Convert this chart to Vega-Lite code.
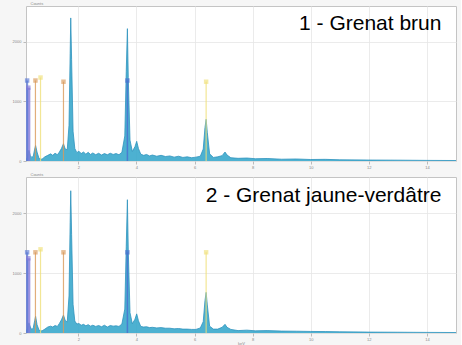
{
  "$schema": "https://vega.github.io/schema/vega-lite/v6.json",
  "padding": {"left": 11, "top": 0, "right": 4, "bottom": 0},
  "background": "#f6f6f6",
  "spacing": 1,
  "config": {
    "font": "Liberation Sans",
    "view": {"fill": "white", "stroke": "#c4c4c4", "strokeWidth": 1},
    "axis": {"gridColor": "#e6e6e6", "gridWidth": 0.8, "domain": false, "tickColor": "#bbb", "tickSize": 3, "labelFontSize": 4, "labelColor": "#888", "labelOverlap": false, "titleFontSize": 4, "titleColor": "#888", "titleFontWeight": "normal"}
  },
  "datasets": {
    "spec": [
      {"p":1,"e":0.2,"c":20},{"p":1,"e":0.25,"c":60},{"p":1,"e":0.3,"c":180},{"p":1,"e":0.35,"c":90},{"p":1,"e":0.4,"c":60},{"p":1,"e":0.45,"c":80},{"p":1,"e":0.5,"c":200},{"p":1,"e":0.53,"c":260},{"p":1,"e":0.58,"c":150},{"p":1,"e":0.65,"c":40},{"p":1,"e":0.75,"c":30},{"p":1,"e":0.85,"c":70},{"p":1,"e":0.95,"c":95},{"p":1,"e":1.05,"c":120},{"p":1,"e":1.12,"c":95},{"p":1,"e":1.2,"c":130},{"p":1,"e":1.28,"c":105},{"p":1,"e":1.35,"c":150},{"p":1,"e":1.42,"c":210},{"p":1,"e":1.49,"c":290},{"p":1,"e":1.55,"c":200},{"p":1,"e":1.62,"c":190},{"p":1,"e":1.68,"c":600},{"p":1,"e":1.72,"c":1800},{"p":1,"e":1.74,"c":2400},{"p":1,"e":1.77,"c":1700},{"p":1,"e":1.82,"c":500},{"p":1,"e":1.88,"c":210},{"p":1,"e":1.95,"c":140},{"p":1,"e":2.02,"c":165},{"p":1,"e":2.1,"c":125},{"p":1,"e":2.18,"c":150},{"p":1,"e":2.26,"c":115},{"p":1,"e":2.34,"c":145},{"p":1,"e":2.42,"c":110},{"p":1,"e":2.5,"c":135},{"p":1,"e":2.6,"c":105},{"p":1,"e":2.7,"c":130},{"p":1,"e":2.8,"c":100},{"p":1,"e":2.9,"c":125},{"p":1,"e":3.0,"c":105},{"p":1,"e":3.1,"c":130},{"p":1,"e":3.2,"c":110},{"p":1,"e":3.3,"c":125},{"p":1,"e":3.4,"c":105},{"p":1,"e":3.5,"c":145},{"p":1,"e":3.6,"c":420},{"p":1,"e":3.65,"c":1500},{"p":1,"e":3.69,"c":2220},{"p":1,"e":3.72,"c":1400},{"p":1,"e":3.78,"c":350},{"p":1,"e":3.86,"c":160},{"p":1,"e":3.95,"c":240},{"p":1,"e":4.01,"c":330},{"p":1,"e":4.07,"c":210},{"p":1,"e":4.15,"c":115},{"p":1,"e":4.25,"c":95},{"p":1,"e":4.35,"c":110},{"p":1,"e":4.45,"c":85},{"p":1,"e":4.55,"c":100},{"p":1,"e":4.7,"c":80},{"p":1,"e":4.85,"c":95},{"p":1,"e":5.0,"c":75},{"p":1,"e":5.15,"c":85},{"p":1,"e":5.3,"c":65},{"p":1,"e":5.45,"c":80},{"p":1,"e":5.6,"c":60},{"p":1,"e":5.75,"c":70},{"p":1,"e":5.9,"c":55},{"p":1,"e":6.05,"c":65},{"p":1,"e":6.2,"c":80},{"p":1,"e":6.3,"c":200},{"p":1,"e":6.36,"c":560},{"p":1,"e":6.4,"c":700},{"p":1,"e":6.44,"c":480},{"p":1,"e":6.52,"c":120},{"p":1,"e":6.65,"c":60},{"p":1,"e":6.8,"c":70},{"p":1,"e":6.95,"c":90},{"p":1,"e":7.05,"c":150},{"p":1,"e":7.12,"c":100},{"p":1,"e":7.25,"c":55},{"p":1,"e":7.5,"c":45},{"p":1,"e":7.8,"c":50},{"p":1,"e":8.1,"c":38},{"p":1,"e":8.5,"c":42},{"p":1,"e":9.0,"c":30},{"p":1,"e":9.5,"c":34},{"p":1,"e":10.0,"c":25},{"p":1,"e":10.5,"c":28},{"p":1,"e":11.0,"c":20},{"p":1,"e":12.0,"c":16},{"p":1,"e":13.0,"c":14},{"p":1,"e":14.0,"c":10},{"p":1,"e":15.0,"c":8},
      {"p":2,"e":0.2,"c":25},{"p":2,"e":0.25,"c":70},{"p":2,"e":0.3,"c":170},{"p":2,"e":0.35,"c":100},{"p":2,"e":0.4,"c":55},{"p":2,"e":0.45,"c":85},{"p":2,"e":0.5,"c":210},{"p":2,"e":0.53,"c":280},{"p":2,"e":0.58,"c":140},{"p":2,"e":0.65,"c":45},{"p":2,"e":0.75,"c":35},{"p":2,"e":0.85,"c":65},{"p":2,"e":0.95,"c":100},{"p":2,"e":1.05,"c":115},{"p":2,"e":1.12,"c":100},{"p":2,"e":1.2,"c":125},{"p":2,"e":1.28,"c":110},{"p":2,"e":1.35,"c":160},{"p":2,"e":1.42,"c":220},{"p":2,"e":1.49,"c":300},{"p":2,"e":1.55,"c":210},{"p":2,"e":1.62,"c":185},{"p":2,"e":1.68,"c":620},{"p":2,"e":1.72,"c":1850},{"p":2,"e":1.74,"c":2380},{"p":2,"e":1.77,"c":1650},{"p":2,"e":1.82,"c":480},{"p":2,"e":1.88,"c":200},{"p":2,"e":1.95,"c":150},{"p":2,"e":2.02,"c":160},{"p":2,"e":2.1,"c":130},{"p":2,"e":2.18,"c":145},{"p":2,"e":2.26,"c":120},{"p":2,"e":2.34,"c":140},{"p":2,"e":2.42,"c":115},{"p":2,"e":2.5,"c":130},{"p":2,"e":2.6,"c":110},{"p":2,"e":2.7,"c":125},{"p":2,"e":2.8,"c":105},{"p":2,"e":2.9,"c":130},{"p":2,"e":3.0,"c":100},{"p":2,"e":3.1,"c":125},{"p":2,"e":3.2,"c":115},{"p":2,"e":3.3,"c":120},{"p":2,"e":3.4,"c":110},{"p":2,"e":3.5,"c":150},{"p":2,"e":3.6,"c":400},{"p":2,"e":3.65,"c":1450},{"p":2,"e":3.69,"c":2230},{"p":2,"e":3.72,"c":1380},{"p":2,"e":3.78,"c":340},{"p":2,"e":3.86,"c":155},{"p":2,"e":3.95,"c":230},{"p":2,"e":4.01,"c":320},{"p":2,"e":4.07,"c":205},{"p":2,"e":4.15,"c":110},{"p":2,"e":4.25,"c":100},{"p":2,"e":4.35,"c":105},{"p":2,"e":4.45,"c":90},{"p":2,"e":4.55,"c":95},{"p":2,"e":4.7,"c":85},{"p":2,"e":4.85,"c":90},{"p":2,"e":5.0,"c":80},{"p":2,"e":5.15,"c":80},{"p":2,"e":5.3,"c":70},{"p":2,"e":5.45,"c":75},{"p":2,"e":5.6,"c":65},{"p":2,"e":5.75,"c":65},{"p":2,"e":5.9,"c":60},{"p":2,"e":6.05,"c":60},{"p":2,"e":6.2,"c":85},{"p":2,"e":6.3,"c":190},{"p":2,"e":6.36,"c":540},{"p":2,"e":6.4,"c":680},{"p":2,"e":6.44,"c":470},{"p":2,"e":6.52,"c":115},{"p":2,"e":6.65,"c":65},{"p":2,"e":6.8,"c":65},{"p":2,"e":6.95,"c":95},{"p":2,"e":7.05,"c":145},{"p":2,"e":7.12,"c":95},{"p":2,"e":7.25,"c":60},{"p":2,"e":7.5,"c":40},{"p":2,"e":7.8,"c":48},{"p":2,"e":8.1,"c":36},{"p":2,"e":8.5,"c":40},{"p":2,"e":9.0,"c":32},{"p":2,"e":9.5,"c":30},{"p":2,"e":10.0,"c":26},{"p":2,"e":10.5,"c":24},{"p":2,"e":11.0,"c":20},{"p":2,"e":12.0,"c":15},{"p":2,"e":13.0,"c":13},{"p":2,"e":14.0,"c":10},{"p":2,"e":15.0,"c":8}
    ],
    "lines": [
      {"p":1,"el":"C","e":0.28,"top":1230,"col":"#8478d8","w":4},
      {"p":1,"el":"N","e":0.24,"top":1350,"col":"#5a7ad6","w":2},
      {"p":1,"el":"O","e":0.525,"top":1350,"col":"#d99a5a","w":1.2},
      {"p":1,"el":"Fe","e":0.7,"top":1400,"col":"#efe07a","w":1.2},
      {"p":1,"el":"Al","e":1.49,"top":1330,"col":"#d99a5a","w":1.2},
      {"p":1,"el":"Ca","e":3.69,"top":1350,"col":"#4a6fd0","w":1.5},
      {"p":1,"el":"Fe","e":6.4,"top":1330,"col":"#efe07a","w":1.2},
      {"p":2,"el":"C","e":0.28,"top":1250,"col":"#8478d8","w":4},
      {"p":2,"el":"N","e":0.24,"top":1350,"col":"#5a7ad6","w":2},
      {"p":2,"el":"O","e":0.525,"top":1350,"col":"#d99a5a","w":1.2},
      {"p":2,"el":"Fe","e":0.7,"top":1400,"col":"#efe07a","w":1.2},
      {"p":2,"el":"Al","e":1.49,"top":1350,"col":"#d99a5a","w":1.2},
      {"p":2,"el":"Ca","e":3.69,"top":1350,"col":"#4a6fd0","w":1.5},
      {"p":2,"el":"Fe","e":6.4,"top":1350,"col":"#efe07a","w":1.2}
    ],
    "notes": [
      {"p":1,"e":14.5,"c":2200,"t":"1 - Grenat brun"},
      {"p":2,"e":14.5,"c":2200,"t":"2 - Grenat jaune-verdâtre"}
    ]
  },
  "vconcat": [
    {
      "width": 430, "height": 155,
      "layer": [
        {"data": {"name": "spec"}, "transform": [{"filter": "datum.p == 1"}],
         "mark": {"type": "area", "color": "#3aa8cc", "opacity": 0.9, "clip": true, "line": {"color": "#2e93be", "strokeWidth": 0.8}},
         "encoding": {
           "x": {"field": "e", "type": "quantitative", "scale": {"domain": [0.2, 15], "nice": false}, "axis": {"values": [2,4,6,8,10,12,14], "title": null, "labelPadding": 1, "labelOverlap": false}},
           "y": {"field": "c", "type": "quantitative", "scale": {"domain": [0, 2600], "nice": false}, "axis": {"values": [0,500,1000,1500,2000,2500], "format": "d", "labelOverlap": false, "labelFlush": false, "title": "Counts", "titleAngle": 0, "titleAlign": "left", "titleBaseline": "bottom", "titleX": 4, "titleY": -1, "labelPadding": 2}}
         }},
        {"data": {"name": "lines"}, "transform": [{"filter": "datum.p == 1"}],
         "mark": {"type": "rule", "opacity": 0.8},
         "encoding": {"x": {"field": "e", "type": "quantitative"}, "y": {"field": "top", "type": "quantitative"}, "y2": {"datum": 0}, "color": {"field": "col", "type": "nominal", "scale": null}, "strokeWidth": {"field": "w", "type": "quantitative", "scale": null}}},
        {"data": {"name": "lines"}, "transform": [{"filter": "datum.p == 1"}],
         "mark": {"type": "point", "shape": "square", "filled": true, "size": 20, "opacity": 0.65},
         "encoding": {"x": {"field": "e", "type": "quantitative"}, "y": {"field": "top", "type": "quantitative"}, "color": {"field": "col", "type": "nominal", "scale": null}}},
        {"data": {"name": "notes"}, "transform": [{"filter": "datum.p == 1"}],
         "mark": {"type": "text", "align": "right", "baseline": "alphabetic", "fontSize": 21, "font": "Liberation Sans", "color": "black"},
         "encoding": {"x": {"field": "e", "type": "quantitative"}, "y": {"field": "c", "type": "quantitative"}, "text": {"field": "t"}}}
      ]
    },
    {
      "width": 430, "height": 156,
      "layer": [
        {"data": {"name": "spec"}, "transform": [{"filter": "datum.p == 2"}],
         "mark": {"type": "area", "color": "#3aa8cc", "opacity": 0.9, "clip": true, "line": {"color": "#2e93be", "strokeWidth": 0.8}},
         "encoding": {
           "x": {"field": "e", "type": "quantitative", "scale": {"domain": [0.2, 15], "nice": false}, "axis": {"values": [2,4,6,8,10,12,14], "title": "keV", "titlePadding": 0, "labelPadding": 1, "labelOverlap": false}},
           "y": {"field": "c", "type": "quantitative", "scale": {"domain": [0, 2610], "nice": false}, "axis": {"values": [0,500,1000,1500,2000,2500], "format": "d", "labelOverlap": false, "labelFlush": false, "title": "Counts", "titleAngle": 0, "titleAlign": "left", "titleBaseline": "bottom", "titleX": 4, "titleY": -1, "labelPadding": 2}}
         }},
        {"data": {"name": "lines"}, "transform": [{"filter": "datum.p == 2"}],
         "mark": {"type": "rule", "opacity": 0.8},
         "encoding": {"x": {"field": "e", "type": "quantitative"}, "y": {"field": "top", "type": "quantitative"}, "y2": {"datum": 0}, "color": {"field": "col", "type": "nominal", "scale": null}, "strokeWidth": {"field": "w", "type": "quantitative", "scale": null}}},
        {"data": {"name": "lines"}, "transform": [{"filter": "datum.p == 2"}],
         "mark": {"type": "point", "shape": "square", "filled": true, "size": 20, "opacity": 0.65},
         "encoding": {"x": {"field": "e", "type": "quantitative"}, "y": {"field": "top", "type": "quantitative"}, "color": {"field": "col", "type": "nominal", "scale": null}}},
        {"data": {"name": "notes"}, "transform": [{"filter": "datum.p == 2"}],
         "mark": {"type": "text", "align": "right", "baseline": "alphabetic", "fontSize": 21, "font": "Liberation Sans", "color": "black"},
         "encoding": {"x": {"field": "e", "type": "quantitative"}, "y": {"field": "c", "type": "quantitative"}, "text": {"field": "t"}}}
      ]
    }
  ]
}
